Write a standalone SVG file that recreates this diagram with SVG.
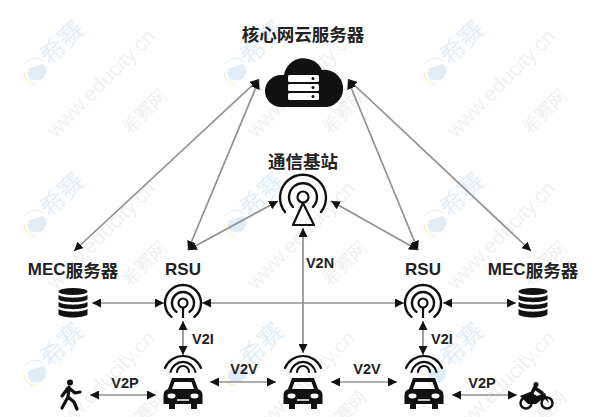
<svg xmlns="http://www.w3.org/2000/svg" xmlns:xlink="http://www.w3.org/1999/xlink" width="600" height="417" viewBox="0 0 600 417">
<style>
.lbl{font-family:"Liberation Sans","Noto Sans CJK SC",sans-serif;font-weight:700;font-size:17px;fill:#222;text-anchor:middle;dominant-baseline:central}
.small{font-size:14.500px}
.cn{font-family:"Noto Sans CJK SC",sans-serif;font-size:17.500px}
.link{fill:none;stroke:#909090;stroke-width:1.700;marker-start:url(#head);marker-end:url(#head)}
.arc{fill:none;stroke:#111;stroke-linecap:round}
.wm1{font-family:"Noto Sans CJK SC",sans-serif;font-size:25px;fill:#e2eef8;text-anchor:middle}
.wm2{font-family:"Liberation Sans",sans-serif;font-size:21px;fill:#f1f1f1;text-anchor:middle}
.wm3{font-family:"Noto Sans CJK SC",sans-serif;font-size:18px;fill:#f0f0f0;text-anchor:middle}
</style>
<defs>
<marker id="head" viewBox="0 0 10 10" refX="10" refY="5" markerWidth="9" markerHeight="9" markerUnits="userSpaceOnUse" orient="auto-start-reverse">
<path d="M0 0L10 5L0 10Z" fill="#111"/>
</marker>
<g id="stamp">
<path d="M44 61A13 13 0 0 0 25 64" fill="none" stroke="#e6f0f8" stroke-width="1.300"/>
<path d="M24 72A13 13 0 0 0 36 84" fill="none" stroke="#f6f2d2" stroke-width="1.300"/>
<path d="M30 68L43 64A9 9 0 0 1 36 80A7 7 0 0 1 30 68Z" fill="#e0ecf6"/>
<text class="wm1" transform="translate(68 49) rotate(-45)">希赛</text>
<text class="wm2" transform="translate(106 88) rotate(-45)">www.educity.cn</text>
<text class="wm3" transform="translate(149 116) rotate(-45)">希赛网</text>
</g>
<g id="tower-rings">
<path class="arc" stroke-width="2.400" d="M-6.500 8.900A11 11 0 1 1 6.500 8.900"/>
<path class="arc" stroke-width="2.400" d="M-11.500 13.800A18 18 0 1 1 11.500 13.800"/>
<circle r="4.500" fill="none" stroke="#111" stroke-width="2.200"/>
<path d="M0 4.500V15" stroke="#111" stroke-width="2.200"/>
</g>
<g id="db">
<ellipse cx="0" cy="-11.500" rx="14.500" ry="3.500" fill="#111"/>
<path d="M-14.500-8C-10-4.500 10-4.500 14.500-8V-3.500C10 0-10 0-14.500-3.500ZM-14.500-1C-10 2.500 10 2.500 14.500-1V3.500C10 7-10 7-14.500 3.500ZM-14.500 6C-10 9.500 10 9.500 14.500 6V11.500C10 15.500-10 15.500-14.500 11.500Z" fill="#111"/>
</g>
<g id="car">
<path d="M-11-15H11L15-4C18-3 19.500-1 19.500 2V11H14V16H8V11H-8V16H-14V11H-19.500V2C-19.500-1-18-3-15-4ZM-8.500-11L-11-4H11L8.500-11Z" fill="#111" fill-rule="evenodd"/>
<ellipse cx="-11.500" cy="3" rx="4" ry="2.400" fill="#fff"/>
<ellipse cx="11.500" cy="3" rx="4" ry="2.400" fill="#fff"/>
<path d="M-6 7H6" stroke="#fff" stroke-width="1.500"/>
<path class="arc" stroke-width="2.200" d="M-18-25A19.500 19.500 0 0 1 18-25M-12.500-21A12.800 12.800 0 0 1 12.500-21M-6-21A6 6 0 0 1 6-21"/>
</g>
</defs>

<g id="watermarks">
<use xlink:href="#stamp"/><use xlink:href="#stamp" x="200"/><use xlink:href="#stamp" x="400"/>
<use xlink:href="#stamp" y="152"/><use xlink:href="#stamp" x="200" y="152"/><use xlink:href="#stamp" x="400" y="152"/>
<use xlink:href="#stamp" y="302"/><use xlink:href="#stamp" x="200" y="302"/><use xlink:href="#stamp" x="400" y="302"/>
</g>

<g id="connectors">
<path class="link" d="M259 79L74 251"/>
<path class="link" d="M259 80L188 250"/>
<path class="link" d="M348 79L531 251"/>
<path class="link" d="M348 80L418 250"/>
<path class="link" d="M278 201L188 250"/>
<path class="link" d="M331 201L418 250"/>
<path class="link" d="M303 228V353"/>
<path class="link" d="M92 303H164"/>
<path class="link" d="M202 303H404"/>
<path class="link" d="M443 303H516"/>
<path class="link" d="M183 321V355"/>
<path class="link" d="M423 321V355"/>
<path class="link" d="M90 395H156"/>
<path class="link" d="M210 382H276"/>
<path class="link" d="M331 382H397"/>
<path class="link" d="M452 395H517"/>
</g>

<g id="cloud-server">
<text class="lbl cn" x="303" y="33">核心网云服务器</text>
<path d="M281 107A16 16 0 0 1 281 75H284A20 20 0 0 1 322 70A18.500 18.500 0 0 1 327 107Z" fill="#111"/>
<g fill="#fff">
<rect x="288" y="75" width="31" height="7" rx="1.500"/><rect x="288" y="84" width="31" height="7" rx="1.500"/><rect x="288" y="93" width="31" height="7" rx="1.500"/>
</g>
<g fill="#111"><circle cx="313" cy="78.500" r="1.500"/><circle cx="313" cy="87.500" r="1.500"/><circle cx="313" cy="96.500" r="1.500"/></g>
</g>

<g id="base-station">
<text class="lbl cn" x="303" y="160">通信基站</text>
<circle cx="303" cy="197" r="5.500" fill="none" stroke="#111" stroke-width="2.200"/>
<path class="arc" stroke-width="2.400" d="M293 207A14 14 0 1 1 313 207"/>
<path class="arc" stroke-width="2.400" d="M285 212A23 23 0 1 1 321 212"/>
<path d="M303 203L314 225H293Z" fill="none" stroke="#111" stroke-width="2.200" stroke-linejoin="round"/>
</g>

<g id="mec-left">
<text class="lbl cn" x="73" y="269"><tspan font-family="Liberation Sans" font-size="17">MEC</tspan>服务器</text>
<use xlink:href="#db" x="73" y="303"/>
</g>
<g id="mec-right">
<text class="lbl cn" x="533" y="269"><tspan font-family="Liberation Sans" font-size="17">MEC</tspan>服务器</text>
<use xlink:href="#db" x="533" y="303"/>
</g>
<g id="rsu-left">
<text class="lbl" x="183" y="269">RSU</text>
<use xlink:href="#tower-rings" x="183" y="303"/>
</g>
<g id="rsu-right">
<text class="lbl" x="423" y="269">RSU</text>
<use xlink:href="#tower-rings" x="423" y="303"/>
</g>

<g id="car-left"><use xlink:href="#car" x="183" y="393"/></g>
<g id="car-middle"><use xlink:href="#car" x="303" y="393"/></g>
<g id="car-right"><use xlink:href="#car" x="424" y="393"/></g>

<g id="pedestrian">
<circle cx="70" cy="382.500" r="3" fill="#111"/>
<path d="M69 387L68 397L62 408M68 397L74 402L77 409M68 388L62 396M69 388L75 393L80 392" fill="none" stroke="#111" stroke-width="3.200" stroke-linecap="round" stroke-linejoin="round"/>
</g>

<g id="motorcycle">
<circle cx="526" cy="403" r="5.500" fill="none" stroke="#111" stroke-width="2.500"/>
<circle cx="547" cy="403" r="5.500" fill="none" stroke="#111" stroke-width="2.500"/>
<path d="M520 396L530 392L537 396L545 393L549 403L544 398L536 404H528Z" fill="#111"/>
<circle cx="536" cy="384.500" r="2.500" fill="#111"/>
<path d="M535 387L531 395L537 398M535 388L542 393" fill="none" stroke="#111" stroke-width="3.500" stroke-linecap="round"/>
</g>

<g id="link-labels">
<text class="lbl small" x="320" y="263">V2N</text>
<text class="lbl small" x="203" y="339">V2I</text>
<text class="lbl small" x="442" y="339">V2I</text>
<text class="lbl small" x="125" y="383">V2P</text>
<text class="lbl small" x="244" y="369">V2V</text>
<text class="lbl small" x="367" y="369">V2V</text>
<text class="lbl small" x="482" y="383">V2P</text>
</g>
</svg>
